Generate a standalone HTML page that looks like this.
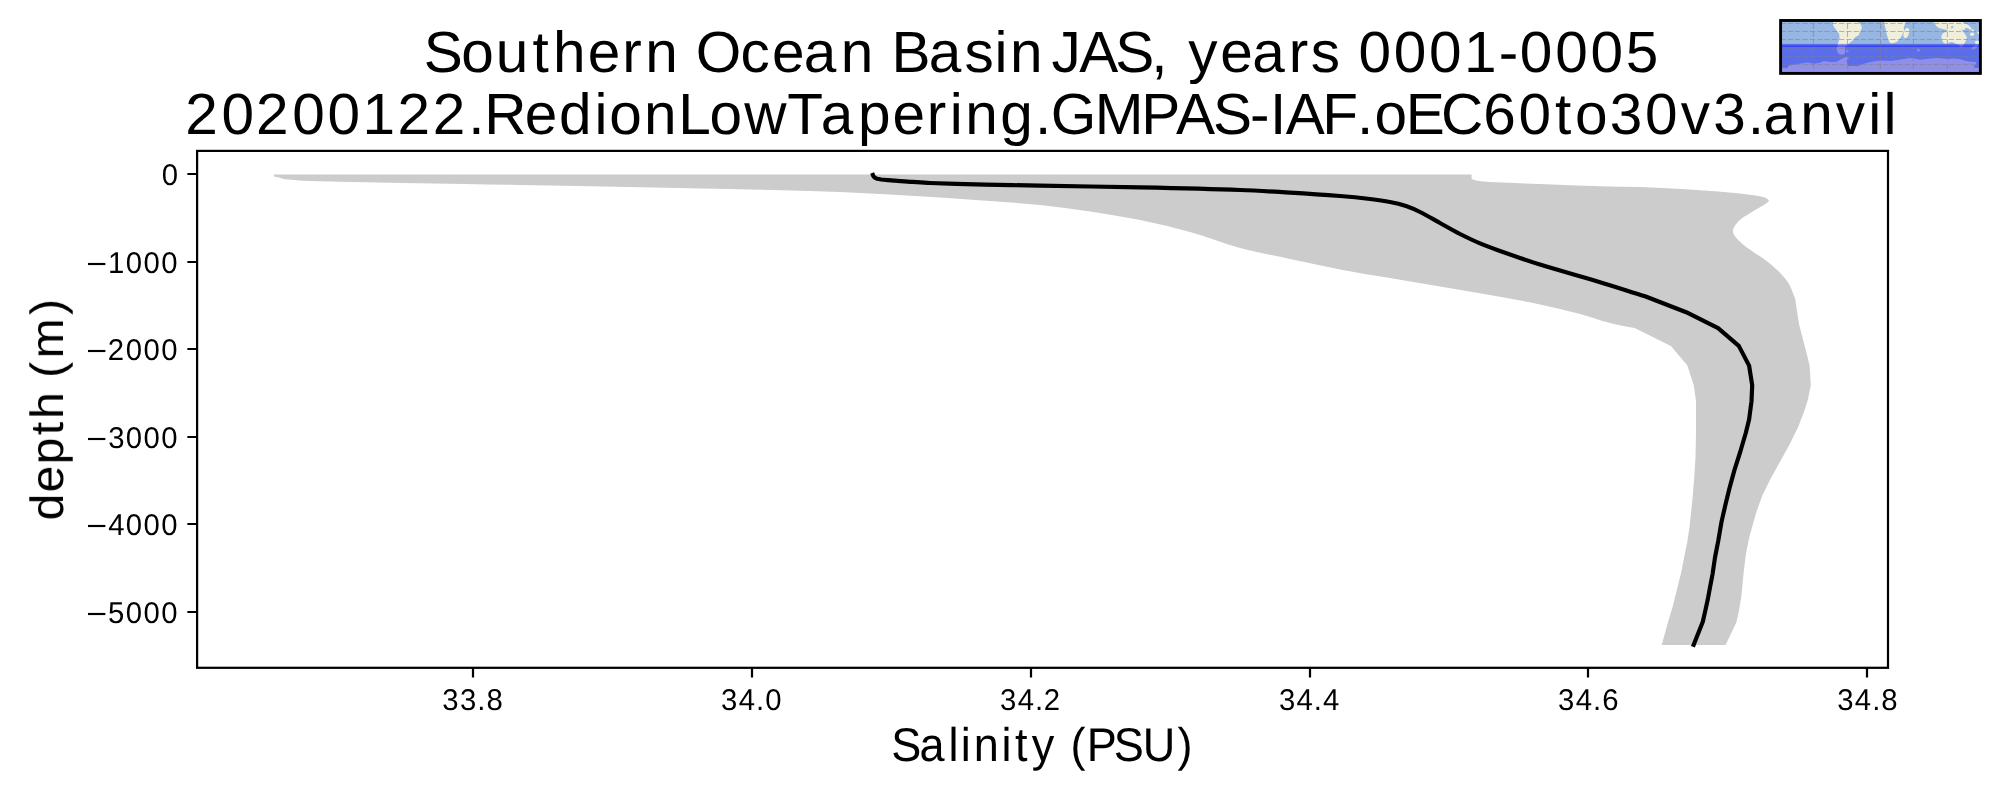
<!DOCTYPE html>
<html><head><meta charset="utf-8"><title>Southern Ocean Basin JAS, years 0001-0005</title>
<style>html,body{margin:0;padding:0;background:#fff;overflow:hidden}svg{display:block}text{font-family:"Liberation Sans", sans-serif;fill:#000;white-space:pre;font-kerning:none;font-variant-ligatures:none;text-rendering:geometricPrecision}</style></head><body>
<svg width="2000" height="800" viewBox="0 0 2000 800">
<rect width="2000" height="800" fill="#fff"/>
<!-- shaded spread + mean profile -->
<path d="M274,176.4L274,174.5L1471.6,174.5L1471.6,179C1473.1,179.5 1474.5,180.3 1476,180.6C1480.6,181.4 1485.3,181.8 1490,182C1506.7,182.9 1523.3,183.4 1540,184C1560,184.8 1580,185.6 1600,186.2C1613.3,186.6 1626.7,186.6 1640,187.1C1655,187.6 1670,188.4 1685,189.2C1695,189.8 1705,190.5 1715,191.3C1722.5,191.9 1730,192.5 1737.5,193.2C1743,193.8 1748.5,194.4 1754,195.2C1757,195.6 1760.1,196.2 1763,197C1764.6,197.4 1766.1,198.1 1767.5,198.9C1768.2,199.4 1768.5,200.2 1769,200.8C1768.2,201.5 1767.6,202.4 1766.8,203C1764.6,204.5 1762.3,205.8 1760,207.2C1756.5,209.3 1753,211.3 1749.5,213.5C1746.5,215.4 1743.3,217.2 1740.5,219.5C1738.5,221.1 1736.7,223.1 1735.2,225.2C1734.2,226.7 1733.1,228.4 1733,230.3C1732.9,232.3 1733.7,234.4 1734.8,236C1736.8,238.9 1739.4,241.2 1742,243.5C1745.8,246.8 1749.9,249.6 1754,252.5C1757.9,255.3 1762.2,257.5 1766,260.4C1770.2,263.7 1774.3,267 1778,270.8C1781.8,274.7 1785.6,278.6 1788.5,283.2C1791.4,287.8 1792.8,293.2 1795,298.1L1799.1,324.4L1805.9,350.6L1809.6,365.6L1810.8,385.3L1807.7,400.6L1803.6,413L1797.9,427.6L1789.8,443.9L1780,461.8L1770.2,479.6L1762.1,495.9L1756.4,512.1L1752.7,525L1749.1,538L1745.9,554.2L1743.9,570.5L1742.6,583.5L1741.3,596.5L1739,611.1L1736.4,622.2L1725.6,644.9L1661.7,644.9L1667.9,622.5L1672.8,606.2L1676.8,590L1680.9,573.8L1684.1,557.5L1687.4,541.2L1689.8,525L1690.6,517L1692.6,497.5L1694.2,478L1695.5,456.9L1696,432.5L1696,401.2L1693.8,385.3L1687.2,365.2L1670.9,345.9L1634.7,328.1C1626.5,326.4 1618.1,325.1 1610,323C1599.9,320.4 1590.1,316.7 1580,314C1566.7,310.5 1553.4,307.2 1540,304.4C1523.4,300.9 1506.7,298 1490,295C1473.4,292 1456.7,289.2 1440,286.4C1423.3,283.6 1406.7,280.8 1390,278C1373.3,275.2 1356.6,272.6 1340,269.4C1323.3,266.2 1306.6,262.6 1290,259C1273.3,255.4 1256.5,252.4 1240,248C1223.1,243.4 1206.9,236.7 1190,232C1173.5,227.4 1156.8,223.5 1140,220C1123.4,216.6 1106.7,213.9 1090,211.4C1073.4,208.9 1056.7,206.7 1040,205C1023.4,203.3 1006.7,202.2 990,201C973.3,199.8 956.7,198.7 940,197.6C923.3,196.5 906.7,195.6 890,194.6C873.3,193.7 856.7,192.5 840,191.9C798.3,190.5 756.7,189.7 715,188.7C673.3,187.8 631.7,187 590,186.2C548.3,185.4 506.7,184.7 465,184C423.3,183.3 381.7,182.6 340,181.8C333.3,181.7 326.7,181.4 320,181.2C313.3,181 306.7,180.7 300,180.4C296,180.2 292,180 288,179.6C286.1,179.4 284.2,179.2 282.4,178.8C281.2,178.5 280,177.9 278.8,177.6C277.2,177.1 275.6,176.8 274,176.4Z" fill="#ccc"/>
<path d="M872.2,172.9C872.6,173.9 872.8,175.1 873.3,176C873.7,176.7 874.3,177.3 875,177.8C875.8,178.3 876.6,178.5 877.5,178.8C878.6,179.1 879.8,179.3 881,179.5C883.3,179.8 885.7,180 888,180.2C890.3,180.4 892.7,180.5 895,180.7C900.8,181.1 906.7,181.6 912.5,181.9C918.3,182.3 924.2,182.8 930,183C948.3,183.7 966.7,184.2 985,184.6C1003.3,185 1021.7,185.3 1040,185.6C1073.3,186.2 1106.7,186.7 1140,187.4C1173.3,188.1 1206.7,188.8 1240,190C1256.7,190.6 1273.3,191.6 1290,192.6C1306.7,193.6 1323.3,194.7 1340,196C1350,196.8 1360,197.8 1370,199C1376.7,199.8 1383.4,200.7 1390,202C1395.4,203 1400.8,204.3 1406,206C1410.8,207.6 1415.5,209.7 1420,212C1426.8,215.4 1433.3,219.3 1440,223C1446.7,226.7 1453.2,230.5 1460,234C1466.6,237.3 1473.2,240.5 1480,243.4C1486.6,246.2 1493.3,248.6 1500,251C1513.3,255.7 1526.6,260.4 1540,264.6C1559.9,270.8 1580,276.2 1600,282.2C1615,286.7 1630,291.6 1645,296.2L1686.2,312.2L1718.1,328.1L1738.8,345.9L1749.1,365.6L1752.2,385.3L1751.5,401.2L1749.1,419.5L1745.9,432.5L1740.2,452L1734.5,469.9L1729.6,487.8L1725.6,504L1721.5,521.9L1718.2,541.2L1715,557.5L1712.6,573.8L1710.1,586.8L1707.7,599.8L1705.2,611.1L1702.8,621.7L1692.9,646.7" fill="none" stroke="#000" stroke-width="4.17" stroke-linejoin="round"/>
<!-- axes frame + ticks -->
<rect x="197.10" y="150.90" width="1690.90" height="516.90" fill="none" stroke="#000" stroke-width="2.22"/>
<path d="M473.00,667.80v9.72M197.10,174.00h-9.72M752.00,667.80v9.72M197.10,262.00h-9.72M1031.00,667.80v9.72M197.10,349.00h-9.72M1310.00,667.80v9.72M197.10,437.00h-9.72M1588.00,667.80v9.72M197.10,524.00h-9.72M1867.00,667.80v9.72M197.10,612.00h-9.72" stroke="#000" stroke-width="2.22" fill="none"/>
<defs><filter id="ga" x="0" y="0" width="2000" height="800" filterUnits="userSpaceOnUse" color-interpolation-filters="sRGB"><feOffset dx="0" dy="0"/></filter></defs>
<!-- titles, axis labels, tick labels -->
<g filter="url(#ga)">
<text transform="translate(425.36,72) scale(1.0073,1)" font-size="58.14" x="-1.59 35.73 69.95 106.3 126.68 161.2 195.37 218.33 251.85 268.49 312.77 344.03 375.7 412.28 445.81 462.77 499.83 535.2 564.94 580.46 613.99 621.66 649.23 684.92 720.65 738.06 757.36 789.14 820.81 857.11 878.86 907.37 926.27 961.36 996.45 1031.24 1065.53 1086.53 1121.62 1156.71 1191.59">Southern Ocean Basin JAS, years 0001-0005</text>
<text transform="translate(184.74,134) scale(1.0073,1)" font-size="58.14" x="0.64 36.45 70.82 106.64 141.73 176.52 211.18 246.27 281.39 297.3 337.49 371.52 406.75 421.56 456.02 489.88 520.99 555.55 598.23 631.46 668.29 702.53 736.7 759.46 774.98 809.52 844.18 859.8 903.38 949.53 984.1 1020.78 1057.64 1077.33 1093 1129.26 1163.66 1181.24 1212.11 1247.06 1289 1324.08 1360.4 1380.15 1414.62 1449.63 1485.14 1517.44 1551.75 1567.27 1603.85 1639.16 1671.25 1686.54">20200122.RedionLowTapering.GMPAS-IAF.oEC60to30v3.anvil</text>
<text transform="translate(891.88,761) scale(0.9500,1)" font-size="47.4" x="-0.71 29.12 59.6 72.62 86.11 115.27 129.48 147.33 173.04 187.95 205.26 233.66 264.07 300.74">Salinity (PSU)</text>
<text transform="translate(63,520.87) rotate(-90) scale(1.0300,1)" font-size="46.6" x="0.49 27.79 54.93 83.19 98.98 125.59 138.78 157.87 200.02">depth (m)</text>
<text transform="translate(441.57,710) scale(0.9750,1)" font-size="30.09" x="0.73 18.86 36.59 46">33.8</text>
<text transform="translate(720.34,710) scale(0.9750,1)" font-size="30.09" x="0.73 18.81 36.59 46">34.0</text>
<text transform="translate(999.31,710) scale(0.9750,1)" font-size="30.09" x="0.73 18.81 36.59 45.62">34.2</text>
<text transform="translate(1278.2,710) scale(0.9750,1)" font-size="30.09" x="0.73 18.81 36.59 46">34.4</text>
<text transform="translate(1557.39,710) scale(0.9750,1)" font-size="30.09" x="0.73 18.81 36.59 46">34.6</text>
<text transform="translate(1836.47,710) scale(0.9750,1)" font-size="30.09" x="0.73 18.81 36.59 46">34.8</text>
<text transform="translate(161.17,185) scale(0.9750,1)" font-size="30.09" x="0.69">0</text>
<text transform="translate(86.13,274.3) scale(1.1897,1)" font-size="30.09">&#8722;</text>
<text transform="translate(107.5,273) scale(0.9750,1)" font-size="30.09" x="0.54 18.82 36.94 55.07">1000</text>
<text transform="translate(86.13,361.3) scale(1.1897,1)" font-size="30.09">&#8722;</text>
<text transform="translate(107.5,360) scale(0.9750,1)" font-size="30.09" x="0.31 18.82 36.94 55.07">2000</text>
<text transform="translate(86.13,449.3) scale(1.1897,1)" font-size="30.09">&#8722;</text>
<text transform="translate(107.5,448) scale(0.9750,1)" font-size="30.09" x="0.73 18.82 36.94 55.07">3000</text>
<text transform="translate(86.13,536.3) scale(1.1897,1)" font-size="30.09">&#8722;</text>
<text transform="translate(107.5,535) scale(0.9750,1)" font-size="30.09" x="0.69 18.82 36.94 55.07">4000</text>
<text transform="translate(86.13,624.3) scale(1.1897,1)" font-size="30.09">&#8722;</text>
<text transform="translate(107.5,623) scale(0.9750,1)" font-size="30.09" x="0.58 18.82 36.94 55.07">5000</text>
</g>
<!-- inset locator map (region highlighted) -->
<g>
<clipPath id="mc"><rect x="1782.05" y="21.95" width="196.90" height="50.00"/></clipPath>
<g clip-path="url(#mc)">
<rect x="1782.05" y="21.95" width="196.90" height="50.00" fill="#97b6e1"/>
<polygon points="1833.1,21.0 1833.1,25.6 1835.9,29.6 1839.2,34.1 1839.6,38.6 1838.0,43.4 1836.7,49.1 1837.5,52.4 1840.0,54.4 1843.2,54.8 1844.8,53.2 1845.2,50.7 1844.8,47.5 1848.1,44.2 1852.2,41.0 1855.4,36.9 1858.7,35.3 1860.3,31.2 1861.9,28.0 1861.1,24.7 1856.6,21.0" fill="#efefdb"/>
<circle cx="1847.2" cy="51.2" r="1.3" fill="#efefdb"/>
<polygon points="1883.5,21.0 1885.2,27.2 1886.4,32.9 1888.0,38.6 1889.6,42.6 1892.1,43.4 1896.3,42.2 1899.3,39.6 1901.7,36.0 1902.9,33.0 1904.0,30.6 1903.8,27.0 1905.4,23.2 1906.3,21.0" fill="#efefdb"/>
<ellipse cx="1906.3" cy="33" rx="2.6" ry="5.1" transform="rotate(16 1906.3 33)" fill="#efefdb"/>
<polygon points="1933.3,20.7 1963.3,20.7 1963.3,22.5 1965.5,23.6 1967.8,24.8 1970.0,26.6 1971.4,28.4 1972.1,29.5 1970.9,29.9 1969.1,29.0 1967.3,28.1 1965.5,28.1 1964.9,29.3 1963.7,29.9 1962.4,29.8 1961.5,29.3 1962.4,31.1 1964.2,32.9 1965.5,34.7 1966.7,36.9 1966.7,38.7 1965.5,41.4 1964.2,43.7 1962.8,45.5 1961.6,47.5 1960.6,47.1 1959.7,45.5 1957.4,44.2 1955.6,43.7 1953.8,42.8 1952.0,42.1 1950.2,42.3 1948.4,43.2 1946.2,43.8 1944.4,43.5 1942.8,42.1 1942.1,39.2 1941.2,36.9 1941.7,35.1 1943.0,33.3 1944.8,32.2 1946.6,31.4 1947.7,30.6 1946.6,29.8 1943.9,29.3 1940.3,28.6 1937.6,27.2 1935.4,24.8" fill="#efefdb"/>
<ellipse cx="1952.25" cy="27.01" rx="1.25" ry="0.95" fill="#97b6e1"/>
<circle cx="1951.49" cy="28.63" r="0.4" fill="#97b6e1"/>
<ellipse cx="1972.84" cy="30.75" rx="1.44" ry="1.17" fill="#efefdb"/>
<ellipse cx="1972.07" cy="34.31" rx="2.07" ry="1.80" fill="#efefdb"/>
<ellipse cx="1978.60" cy="32.50" rx="1.26" ry="1.62" fill="#efefdb"/>
<polygon points="1974.9,41.6 1976.8,40.7 1979.7,41.2 1979.7,44.1 1975.9,44.1 1975.1,42.9" fill="#efefdb"/>
<polygon points="1971.4,48.7 1972.7,47.3 1975.0,45.0 1977.9,44.5 1977.5,46.8 1974.5,49.2 1972.3,49.6" fill="#efefdb"/>
<circle cx="1918.4" cy="50.2" r="1.35" fill="#efefdb"/>
<circle cx="1918.4" cy="50.2" r="0.45" fill="#97b6e1"/>
<polygon points="1779.0,67.6 1787.2,68.2 1788.4,65.8 1799.4,63.7 1807.5,62.5 1814.0,63.7 1820.5,62.5 1823.7,61.1 1831.9,62.1 1836.7,61.7 1840.0,59.7 1844.9,57.2 1848.1,57.2 1848.9,58.9 1846.5,60.5 1848.1,66.2 1853.0,65.8 1857.9,66.2 1861.1,64.6 1868.4,62.5 1876.5,60.9 1883.1,60.5 1891.2,60.9 1899.4,59.7 1907.5,58.5 1911.6,58.0 1920.5,59.7 1923.7,59.3 1931.9,58.5 1936.7,58.0 1942.4,58.5 1948.1,58.9 1954.6,58.5 1960.3,59.3 1964.4,60.5 1970.9,61.7 1975.7,62.1 1976.5,63.7 1974.1,65.4 1974.1,67.8 1982.0,68.2 1982.0,76.0 1779.0,76.0" fill="#efefdb"/>
<rect x="1777.05" y="45.40" width="206.90" height="31.55" fill="#0000ff" fill-opacity="0.4"/>
<rect x="1777.05" y="43.90" width="206.90" height="3.00" fill="#0000ff" fill-opacity="0.4"/>
<path d="M1813.40,23.45V71.95M1847.50,23.45V71.95M1880.50,23.45V71.95M1913.40,23.45V71.95M1947.40,23.45V71.95" stroke="#808080" stroke-opacity="0.55" stroke-width="1.05" stroke-dasharray="5.6 2.45" fill="none"/>
<path d="M1780.60,23.45H1978.95M1780.60,31.50H1978.95M1780.60,39.50H1978.95M1780.60,48.30H1978.95M1780.60,56.40H1978.95M1780.60,64.40H1978.95" stroke="#808080" stroke-opacity="0.55" stroke-width="1.05" stroke-dasharray="5.2 2.11" fill="none"/>
</g>
<rect x="1780.60" y="20.50" width="199.80" height="52.90" fill="none" stroke="#000" stroke-width="2.90"/>
</g>
</svg></body></html>
